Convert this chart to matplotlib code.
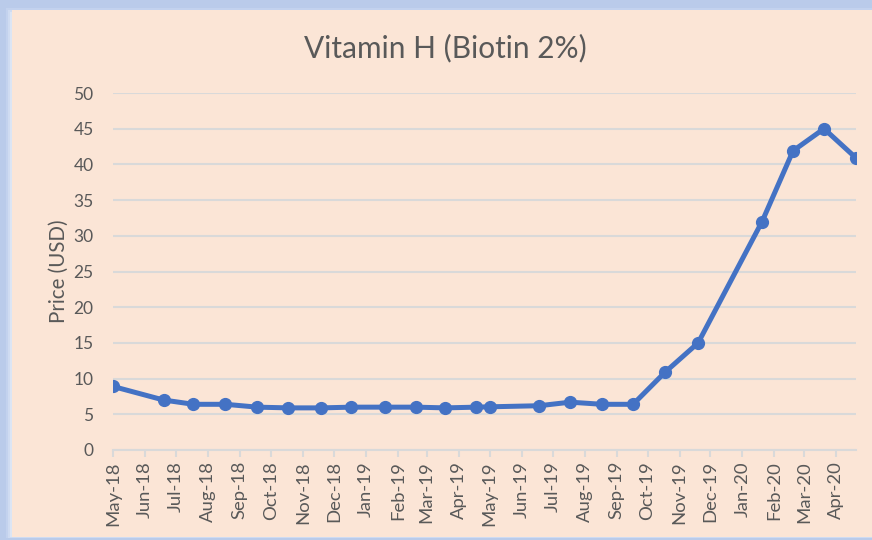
import numpy as np
import pandas as pd
import matplotlib
matplotlib.use('Agg')
import matplotlib.pyplot as plt
import matplotlib.dates as mdates
from matplotlib.patches import Rectangle

dates = ['2018-05-01', '2018-06-19', '2018-07-18', '2018-08-18', '2018-09-18',
         '2018-10-18', '2018-11-19', '2018-12-18', '2019-01-20', '2019-02-19',
         '2019-03-19', '2019-04-18', '2019-05-01', '2019-06-18', '2019-07-18',
         '2019-08-18', '2019-09-17', '2019-10-18', '2019-11-19', '2020-01-20',
         '2020-02-19', '2020-03-20', '2020-04-20']
prices = [8.9, 7.0, 6.4, 6.4, 6.0,
          5.9, 5.9, 6.0, 6.0, 6.0,
          5.9, 6.0, 6.05, 6.2, 6.7,
          6.4, 6.4, 10.9, 15.0, 32.0,
          41.9, 45.0, 40.9]
title = 'Vitamin H (Biotin 2%)'
ylabel = 'Price (USD)'

x = pd.to_datetime(dates)
peach = '#FBE5D6'
grey_txt = '#595959'
grid_c = '#D9D9D9'

plt.rcParams['font.family'] = ['Lato', 'DejaVu Sans']

fig = plt.figure(figsize=(8.72, 5.4), dpi=100)
fig.patch.set_facecolor('#BACBEA')
# soft border glow
for i, c in enumerate(['#C3D2EE', '#CFDBF1', '#DCE5F4']):
    fig.add_artist(Rectangle(((6 + 2 * i) / 872, (2 + 0.3 * i) / 540), 1, 1 - (8 + 2 * i) / 540 - (2 + 0.3 * i) / 540,
                             transform=fig.transFigure, facecolor=c, edgecolor='none', zorder=0))
fig.add_artist(Rectangle((12 / 872, 3 / 540), 1, 1 - 13 / 540, transform=fig.transFigure,
                         facecolor=peach, edgecolor='none', zorder=0))

ax = fig.add_axes([113 / 872, 90 / 540, 743 / 872, 357 / 540])
ax.set_facecolor(peach)
ax.patch.set_alpha(0)

ax.plot(x, prices, color='#4472C4', lw=3.6, marker='o', ms=8.5, solid_capstyle='round', zorder=3)

ax.set_ylim(0, 50)
ax.set_yticks(np.arange(0, 51, 5))
ax.set_xlim(pd.Timestamp('2018-05-01'), x[-1])
ax.xaxis.set_major_locator(mdates.MonthLocator())
ax.xaxis.set_major_formatter(mdates.DateFormatter('%b-%y'))
ax.grid(axis='y', color=grid_c, lw=1.5)
ax.set_axisbelow(True)
for s in ['top', 'right', 'left']:
    ax.spines[s].set_visible(False)
ax.spines['bottom'].set_color(grid_c)
ax.spines['bottom'].set_linewidth(1.5)
ax.tick_params(axis='y', length=0, pad=14, labelsize=12.5, labelcolor=grey_txt)
ax.tick_params(axis='x', length=5, width=1.5, color=grid_c, labelsize=13.3, labelcolor=grey_txt,
               labelrotation=90, pad=3)

ax.set_ylabel(ylabel, fontsize=14.8, color=grey_txt, labelpad=3)
fig.text(445 / 872, 1 - 48 / 540, title, ha='center', va='center', fontsize=21.5, color=grey_txt)

fig.savefig('out.png', dpi=100, facecolor=fig.get_facecolor())
